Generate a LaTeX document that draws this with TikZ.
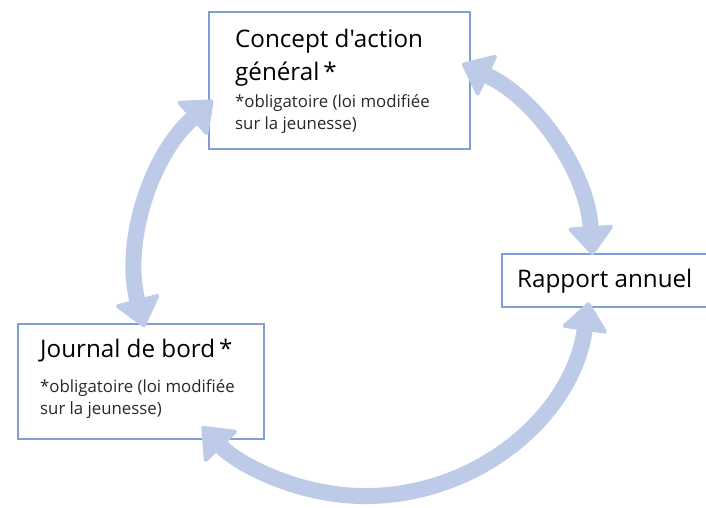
\documentclass[tikz,border=0pt]{standalone}
\usepackage{fontspec}
\setmainfont{Open Sans}[Ligatures=TeXOff]
\usetikzlibrary{arrows.meta}
\definecolor{boxblue}{RGB}{127,159,214}
\definecolor{arrowblue}{RGB}{189,203,232}
\definecolor{smalltext}{RGB}{40,40,40}
\begin{document}
\begin{tikzpicture}[x=1pt,y=-1pt,
  box/.style={draw=boxblue, line width=2pt, fill=white, inner sep=0pt, anchor=north west},
  bigtxt/.style={anchor=base west, inner sep=0pt, font=\fontsize{24.2}{28}\selectfont, text=black},
  smalltxt/.style={anchor=base west, inner sep=0pt, font=\fontsize{16.8}{20}\selectfont, text=smalltext},
  cyc/.style={draw=arrowblue, line width=16pt,
    {Triangle[width=48pt,length=30pt,round,line width=4pt]}-{Triangle[width=48pt,length=30pt,round,line width=4pt]}}]
\clip (0,0) rectangle (706,507);
\fill[white] (0,0) rectangle (706,507);
% boxes
\node[box, minimum width=261pt, minimum height=137pt] (concept) at (208,11) {};
\node[box, minimum width=220pt, minimum height=53pt] (rapport) at (501,253) {};
\node[box, minimum width=246pt, minimum height=115pt] (journal) at (17,323) {};
% texts
\node[bigtxt] (c1) at (235,47) {Concept d'action};
\node[bigtxt] (c2) at (235,80) {général\,*};
\node[smalltxt] (c3) at (235,107) {*obligatoire (loi modifiée};
\node[smalltxt] (c4) at (235,129) {sur la jeunesse)};
\node[bigtxt] (r1) at (517,287) {Rapport annuel};
\node[bigtxt] (j1) at (40,357) {Journal de bord\,*};
\node[smalltxt] (j2) at (40,392) {*obligatoire (loi modifiée};
\node[smalltxt] (j3) at (40,414) {sur la jeunesse)};
% cycle arrows
\coordinate (ctr) at (365,270);
\coordinate (a1) at ([shift={(165.5:228)}]ctr);
\coordinate (a2) at ([shift={(295.2:228)}]ctr);
\coordinate (a3) at ([shift={(8.2:226)}]ctr);
\draw[cyc] (a1) arc[start angle=165.5, end angle=228.2, radius=228];
\draw[cyc] (a2) arc[start angle=295.2, end angle=356.2, radius=228];
\draw[cyc] (a3) arc[start angle=8.2, end angle=136.2, radius=226];
\end{tikzpicture}
\end{document}
